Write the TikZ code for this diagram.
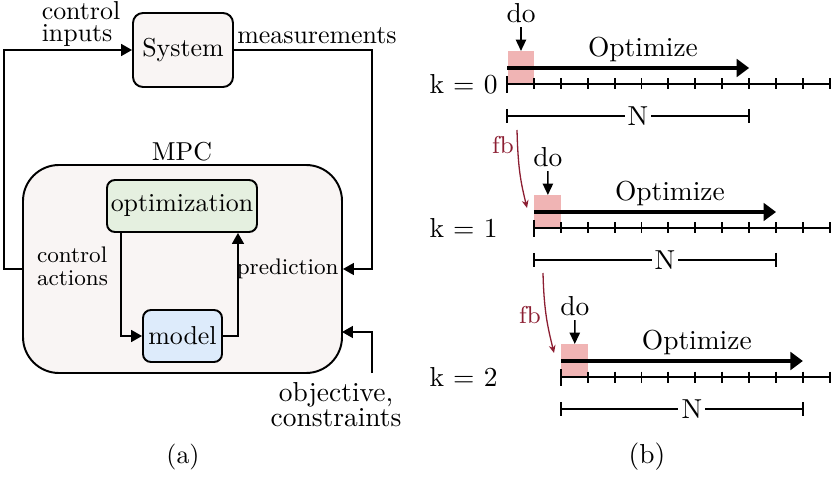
\documentclass[tikz,border=0pt]{standalone}
\usetikzlibrary{arrows.meta,calc}
\newdimen\pxu \pxu=0.3861pt
\definecolor{boxbg}{RGB}{249,245,244}
\definecolor{optbg}{RGB}{229,240,224}
\definecolor{modbg}{RGB}{221,235,251}
\definecolor{dored}{RGB}{240,180,180}
\definecolor{fbred}{RGB}{140,30,50}
\begin{document}
\begin{tikzpicture}[x=0.3861pt,y=-0.3861pt,
  blk/.style={draw, line width=0.75pt, inner sep=0pt},
  arr/.style={line width=0.6pt, -{Triangle[length=4.2pt,width=4.6pt]}},
  ax/.style={line width=0.75pt},
  oarr/.style={line width=1.25pt, -{Triangle[length=4.8pt,width=6.8pt]}},
  darr/.style={line width=0.6pt, -{Triangle[length=4.4pt,width=4pt]}},
  fbarr/.style={line width=0.5pt, draw=fbred, -{Stealth[length=3pt,width=2.6pt]}},
  rfont/.style={font=\fontsize{10.6}{12.7}\selectfont},
  fbc/.style={text=fbred, font=\fontsize{9.4}{11}\selectfont, inner sep=0pt},
  two/.style={align=left, font=\fontsize{10}{8.6}\selectfont, inner sep=0pt},
  small/.style={font=\fontsize{8.7}{8.9}\selectfont}]
\useasboundingbox (0,0) rectangle (831,478);

% ---------- (a) ----------
\node[blk, fill=boxbg, minimum width=100\pxu, minimum height=74\pxu, rounded corners=10\pxu] (sys) at (183,50) {System};
\node[blk, fill=boxbg, minimum width=319\pxu, minimum height=208\pxu, rounded corners=36\pxu] (mpc) at (182.5,269) {};
\node (mpcl) at (182,152) {MPC};
\node[blk, fill=optbg, minimum width=150\pxu, minimum height=52\pxu, rounded corners=8\pxu] (opt) at (182,206) {optimization};
\node[blk, fill=modbg, minimum width=79\pxu, minimum height=52\pxu, rounded corners=8\pxu] (mod) at (182.5,336) {model};

\node[two] (ci) at (81,24) {control\\inputs};
\node[two, small, align=left] (ca) at (72.5,266) {control\\actions};
\node[two, align=center, font=\fontsize{10.6}{9.7}\selectfont] (oc) at (336,405) {objective,\\constraints};
\node[anchor=east, inner sep=1.5pt, small] (pred) at (mpc.east) {prediction};
\node[anchor=south, inner sep=1pt] (meas) at (317,47) {measurements};

\coordinate (cl) at (4,50);
\coordinate (mr) at (372,50);
\coordinate (ob) at (372,373);
\coordinate (mo) at (342,332);

\draw[arr] (mpc.west) -| (cl) -- (sys.west);
\draw[arr] (sys.east) -- (mr) |- (mpc.east);
\draw[arr] (ob) |- (mo);
\draw[arr] ($(opt.south west)+(15,0)$) |- (mod.west);
\draw[arr] (mod.east) -| ($(opt.south east)+(-20,0)$);

\node (la) at (183,457) {(a)};

% ---------- (b) ----------
\foreach \k/\ay in {0/84,1/228,2/377}{
  \pgfmathsetmacro\xo{507+\k*26.9}
  \node[fill=dored, minimum width=26.9\pxu, minimum height=32\pxu, inner sep=0pt, anchor=south west] (rb\k) at (\xo,\ay) {};
  \coordinate (as\k) at (\xo,\ay);
  \coordinate (ae\k) at (829.8,\ay);
  \draw[ax] (as\k) -- (ae\k);
  \draw[ax] (\xo,\ay-8) -- (\xo,\ay+9);
  \foreach \i in {\k,...,12}{
    \draw[ax] (507+\i*26.9,\ay-5.5) -- (507+\i*26.9,\ay+5.5);
  }
  \coordinate (os\k) at (\xo,\ay-16);
  \coordinate (oe\k) at (\xo+9*26.9,\ay-16);
  \draw[oarr] (os\k) -- (oe\k);
  \node[rfont] (oz\k) at (\xo+136,\ay-35) {Optimize};
  \node[rfont, inner sep=1.5pt] (do\k) at (\xo+14,\ay-71) {do};
  \draw[darr] (do\k) -- (rb\k.north);
  \node[rfont, inner sep=1pt] (N\k) at (\xo+131,\ay+32) {N};
  \coordinate (nl\k) at (\xo,\ay+32);
  \coordinate (nr\k) at (\xo+9*26.9,\ay+32);
  \draw[ax] (nl\k) -- (N\k);
  \draw[ax] (N\k) -- (nr\k);
  \draw[ax] (\xo,\ay+25) -- (\xo,\ay+39);
  \draw[ax] (\xo+9*26.9,\ay+25) -- (\xo+9*26.9,\ay+39);
  \node[rfont, anchor=east, inner sep=0pt] (kl\k) at (498,\ay) {k = \k};
}

\coordinate (fb0s) at (517,130);
\coordinate (fb0e) at (527,208);
\coordinate (fb1s) at (543,273);
\coordinate (fb1e) at (554,353);
\draw[fbarr] (fb0s) .. controls +(1,40) and +(-6,-25) .. (fb0e);
\draw[fbarr] (fb1s) .. controls +(1,40) and +(-6,-25) .. (fb1e);
\node[fbc] (fbl0) at (503,145) {fb};
\node[fbc] (fbl1) at (530,315) {fb};

\node[rfont] (lb) at (647,457) {(b)};
\end{tikzpicture}
\end{document}
